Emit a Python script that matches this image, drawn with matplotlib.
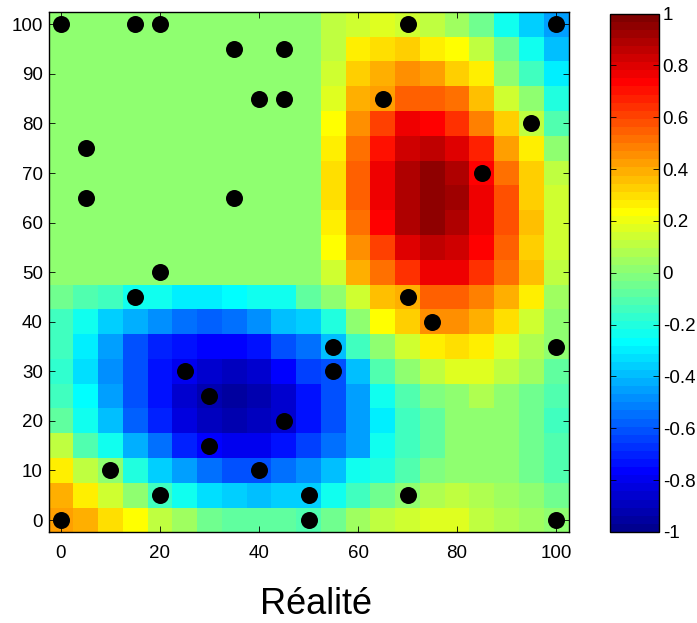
import numpy as np
import matplotlib
matplotlib.use('Agg')
import matplotlib.pyplot as plt
from matplotlib.colors import ListedColormap

plt.rcParams['font.family'] = ['Liberation Sans', 'DejaVu Sans']

# grid coordinates (cell centres)
x_vals = np.arange(0, 101, 5)
y_vals = np.arange(0, 101, 5)

# flat value of the upper-left block
FLAT = 0.02

# one row per y value, left to right x = 0..100
row_y0 = [0.42, 0.38, 0.30, 0.22, 0.12, 0.05, -0.05, -0.08, -0.08, -0.08, -0.10, -0.05, 0.05, 0.10, 0.15, 0.18, 0.18, 0.12, 0.08, 0.05, 0.02]
row_y5 = [0.38, 0.25, 0.15, 0.00, -0.15, -0.25, -0.32, -0.35, -0.40, -0.35, -0.35, -0.25, -0.15, -0.05, 0.03, 0.08, 0.10, 0.08, 0.05, 0.00, -0.05]
row_y10 = [0.25, 0.12, 0.00, -0.20, -0.35, -0.45, -0.55, -0.60, -0.60, -0.55, -0.50, -0.40, -0.25, -0.20, -0.10, -0.02, 0.02, 0.02, 0.00, -0.05, -0.10]
row_y15 = [0.10, -0.10, -0.25, -0.42, -0.55, -0.70, -0.78, -0.80, -0.80, -0.75, -0.65, -0.55, -0.45, -0.25, -0.15, -0.08, 0.00, 0.02, 0.00, -0.05, -0.12]
row_y20 = [-0.08, -0.25, -0.38, -0.58, -0.70, -0.82, -0.90, -0.93, -0.90, -0.85, -0.75, -0.62, -0.45, -0.30, -0.15, -0.08, 0.00, 0.03, 0.00, -0.05, -0.15]
row_y25 = [-0.15, -0.28, -0.45, -0.60, -0.75, -0.85, -0.92, -0.95, -0.93, -0.85, -0.75, -0.62, -0.45, -0.25, -0.12, -0.02, 0.03, 0.08, 0.03, -0.05, -0.12]
row_y30 = [-0.18, -0.33, -0.48, -0.62, -0.75, -0.80, -0.87, -0.88, -0.85, -0.78, -0.65, -0.60, -0.40, -0.12, 0.03, 0.12, 0.18, 0.18, 0.12, 0.05, -0.08]
row_y35 = [-0.15, -0.30, -0.45, -0.60, -0.70, -0.75, -0.78, -0.78, -0.75, -0.60, -0.55, -0.40, -0.15, 0.03, 0.15, 0.25, 0.30, 0.25, 0.18, 0.08, 0.00]
row_y40 = [-0.15, -0.25, -0.35, -0.42, -0.50, -0.55, -0.58, -0.55, -0.50, -0.40, -0.35, -0.20, 0.00, 0.22, 0.33, 0.45, 0.45, 0.40, 0.30, 0.15, 0.00]
row_y45 = [-0.05, -0.10, -0.15, -0.25, -0.25, -0.30, -0.30, -0.28, -0.25, -0.22, -0.08, 0.02, 0.15, 0.35, 0.40, 0.55, 0.55, 0.48, 0.40, 0.25, 0.05]
row_y50 = [FLAT] * 11 + [0.15, 0.38, 0.50, 0.65, 0.75, 0.75, 0.65, 0.50, 0.35, 0.12]
row_y55 = [FLAT] * 11 + [0.22, 0.45, 0.62, 0.80, 0.85, 0.82, 0.72, 0.55, 0.33, 0.15]
row_y60 = [FLAT] * 11 + [0.25, 0.50, 0.72, 0.88, 0.95, 0.90, 0.78, 0.58, 0.35, 0.15]
row_y65 = [FLAT] * 11 + [0.30, 0.55, 0.78, 0.90, 0.95, 0.92, 0.78, 0.58, 0.33, 0.15]
row_y70 = [FLAT] * 11 + [0.30, 0.55, 0.78, 0.90, 0.95, 0.90, 0.72, 0.50, 0.32, 0.12]
row_y75 = [FLAT] * 11 + [0.28, 0.50, 0.70, 0.82, 0.85, 0.80, 0.68, 0.42, 0.25, 0.00]
row_y80 = [FLAT] * 11 + [0.22, 0.45, 0.62, 0.75, 0.72, 0.65, 0.48, 0.33, 0.10, -0.10]
row_y85 = [FLAT] * 11 + [0.18, 0.38, 0.42, 0.55, 0.55, 0.50, 0.35, 0.15, 0.00, -0.20]
row_y90 = [FLAT] * 11 + [0.15, 0.33, 0.40, 0.45, 0.42, 0.33, 0.25, 0.03, -0.15, -0.30]
row_y95 = [FLAT] * 11 + [0.12, 0.25, 0.30, 0.33, 0.25, 0.22, 0.10, -0.05, -0.25, -0.40]
row_y100 = [FLAT] * 11 + [0.10, 0.15, 0.18, 0.15, 0.12, 0.05, -0.05, -0.25, -0.35, -0.45]

# observation points
pts_x = [0, 15, 20, 35, 45, 40, 45, 5, 5, 35, 20, 70, 100, 65, 95, 85, 15, 70, 75, 55, 100, 55, 25, 30, 45, 30, 10, 40, 20, 50, 70, 0, 50, 100]
pts_y = [100, 100, 100, 95, 95, 85, 85, 75, 65, 65, 50, 100, 100, 85, 80, 70, 45, 45, 40, 35, 35, 30, 30, 25, 20, 15, 10, 10, 5, 5, 5, 0, 0, 0]

cbar_ticks = [-1, -0.8, -0.6, -0.4, -0.2, 0, 0.2, 0.4, 0.6, 0.8, 1]
cbar_labels = ['-1', '-0.8', '-0.6', '-0.4', '-0.2', '0', '0.2', '0.4', '0.6', '0.8', '1']


def matlab_jet(m=64):
    n = int(np.ceil(m / 4))
    u = np.concatenate([np.arange(1, n + 1) / n, np.ones(n - 1), np.arange(n, 0, -1) / n])
    g = int(np.ceil(n / 2)) - (1 if m % 4 == 1 else 0) + np.arange(1, len(u) + 1)
    r = g + n
    b = g - n
    cols = np.zeros((m, 3))
    for idx, c in [(r, 0), (g, 1), (b, 2)]:
        ok = (idx >= 1) & (idx <= m)
        cols[idx[ok] - 1, c] = u[ok]
    return ListedColormap(cols)


z = np.array([row_y0, row_y5, row_y10, row_y15, row_y20, row_y25, row_y30,
              row_y35, row_y40, row_y45, row_y50, row_y55, row_y60, row_y65,
              row_y70, row_y75, row_y80, row_y85, row_y90, row_y95, row_y100])

fig = plt.figure(figsize=(6.97, 6.23), dpi=100)
ax = fig.add_axes([48.5 / 697, 1 - 532.4 / 623, 520 / 697, 520.5 / 623])

xe = np.append(x_vals - 2.5, x_vals[-1] + 2.5)
ye = np.append(y_vals - 2.5, y_vals[-1] + 2.5)
mesh = ax.pcolormesh(xe, ye, z, cmap=matlab_jet(), vmin=-1, vmax=1)
ax.scatter(pts_x, pts_y, s=150, c='black', zorder=3, linewidths=0)

ax.set_xlim(-2.5, 102.5)
ax.set_ylim(-2.5, 102.5)
ax.set_xticks(np.arange(0, 101, 20))
ax.set_yticks(np.arange(0, 101, 10))
ax.tick_params(direction='in', top=True, right=True, length=4, width=0.6,
               labelsize=13.5)
ax.tick_params(axis='x', pad=9)
ax.tick_params(axis='y', pad=4)
for s in ax.spines.values():
    s.set_linewidth(1.0)

cax = fig.add_axes([610 / 697, 1 - 532 / 623, 48.5 / 697, 518.5 / 623])
cb = fig.colorbar(mesh, cax=cax)
cb.set_ticks(cbar_ticks)
cb.set_ticklabels(cbar_labels)
cb.ax.tick_params(direction='in', left=True, right=True, length=4, width=0.6,
                  labelsize=13.5, pad=3)
cb.outline.set_linewidth(1.0)

fig.text(316 / 697, 1 / 623, 'Réalité', ha='center', va='bottom', fontsize=26)

fig.savefig('out.png', dpi=100)
